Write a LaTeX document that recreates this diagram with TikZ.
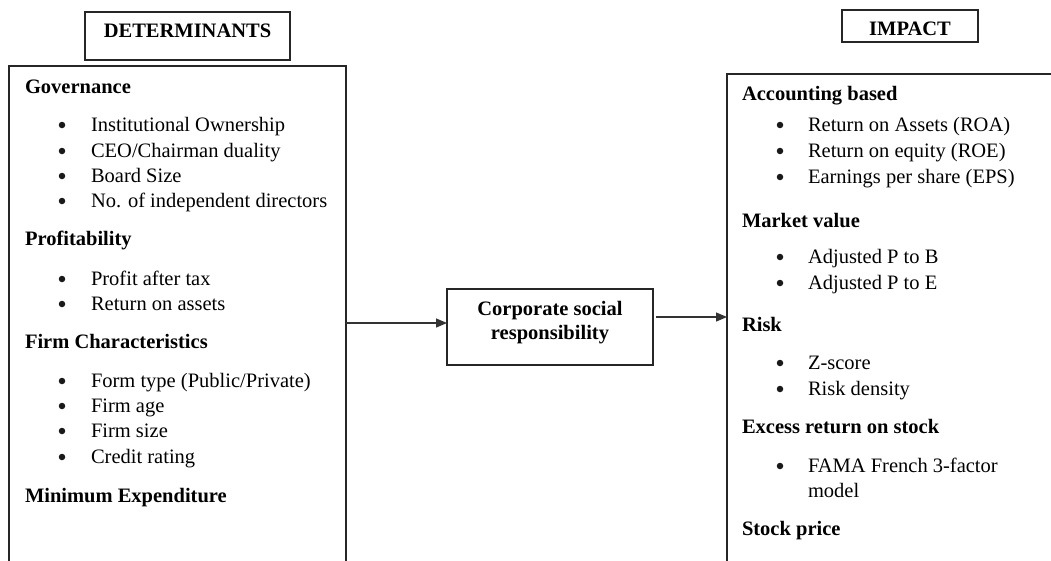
\documentclass[tikz,border=0pt]{standalone}
\usepackage{fontspec}
\setmainfont{Liberation Serif}
\usetikzlibrary{arrows.meta}
\begin{document}
\begin{tikzpicture}[x=1pt,y=-1pt,
  every node/.style={font=\fontsize{20.5}{25}\selectfont, inner sep=0pt, outer sep=0pt},
  box/.style={draw=black!85, line width=1.8pt, anchor=north west},
  head/.style={anchor=base west, font=\fontsize{20.5}{25}\selectfont\bfseries},
  item/.style={anchor=base west},
  dot/.style={circle, fill=black!90, minimum size=6.5pt},
  arr/.style={draw=black!80, line width=1.2pt, -{Triangle[length=11pt,width=9pt]}}]
\useasboundingbox (0,0) rectangle (1051,560);
\clip (0,0) rectangle (1051,560);

% title boxes
\node[box, minimum width=205pt, minimum height=48pt] (dettitle) at (85,12) {};
\node[anchor=base, font=\fontsize{20.5}{25}\selectfont\bfseries] (dettext) at (187.5,37) {DETERMINANTS};
\node[box, minimum width=136pt, minimum height=32pt] (imptitle) at (842,10) {};
\node[anchor=base, font=\fontsize{20.5}{25}\selectfont\bfseries] (imptext) at (910,35) {IMPACT};

% main boxes
\node[box, minimum width=337pt, minimum height=520pt] (det) at (9,66) {};
\node[box, minimum width=340pt, minimum height=520pt] (imp) at (727,74) {};
\node[box, minimum width=206pt, minimum height=76pt] (csr) at (447,289) {};
\node[anchor=base, font=\fontsize{20.5}{25}\selectfont\bfseries] (csr1) at (550,315) {Corporate social};
\node[anchor=base, font=\fontsize{20.5}{25}\selectfont\bfseries] (csr2) at (550,339) {responsibility};

% connectors
\coordinate (a1) at (346,323);
\coordinate (a2) at (447,323);
\coordinate (b1) at (656,317);
\coordinate (b2) at (727,317);
\draw[arr] (a1) -- (a2);
\draw[arr] (b1) -- (b2);

% determinants list
\node[head] (g) at (25,93) {Governance};
\foreach \t/\y [count=\i] in {Institutional Ownership/131, {CEO/Chairman duality}/157, Board Size/182, No. of independent directors/207}{
  \node[dot] (gd\i) at (62,\y-6) {};
  \node[item] (gi\i) at (91,\y) {\t};
}
\node[head] (p) at (25,245) {Profitability};
\foreach \t/\y [count=\i] in {Profit after tax/285, Return on assets/310}{
  \node[dot] (pd\i) at (62,\y-6) {};
  \node[item] (pi\i) at (91,\y) {\t};
}
\node[head] (f) at (25,348) {Firm Characteristics};
\foreach \t/\y [count=\i] in {{Form type (Public/Private)}/387, Firm age/412, Firm size/437, Credit rating/463}{
  \node[dot] (fd\i) at (62,\y-6) {};
  \node[item] (fi\i) at (91,\y) {\t};
}
\node[head] (m) at (25,502) {Minimum Expenditure};

% impact list
\node[head] (ab) at (742,100) {Accounting based};
\foreach \t/\y [count=\i] in {Return on Assets (ROA)/131, Return on equity (ROE)/157, Earnings per share (EPS)/183}{
  \node[dot] (ad\i) at (780,\y-6) {};
  \node[item] (ai\i) at (808,\y) {\t};
}
\node[head] (mv) at (742,227) {Market value};
\foreach \t/\y [count=\i] in {Adjusted P to B/263, Adjusted P to E/289}{
  \node[dot] (md\i) at (780,\y-6) {};
  \node[item] (mi\i) at (808,\y) {\t};
}
\node[head] (rk) at (742,331) {Risk};
\foreach \t/\y [count=\i] in {Z-score/369, Risk density/395}{
  \node[dot] (rd\i) at (780,\y-6) {};
  \node[item] (ri\i) at (808,\y) {\t};
}
\node[head] (er) at (742,433) {Excess return on stock};
\node[dot] (ed1) at (780,466) {};
\node[item] (ei1) at (808,472) {FAMA French 3-factor};
\node[item] (ei2) at (808,497) {model};
\node[head] (sp) at (742,535) {Stock price};
\end{tikzpicture}
\end{document}
